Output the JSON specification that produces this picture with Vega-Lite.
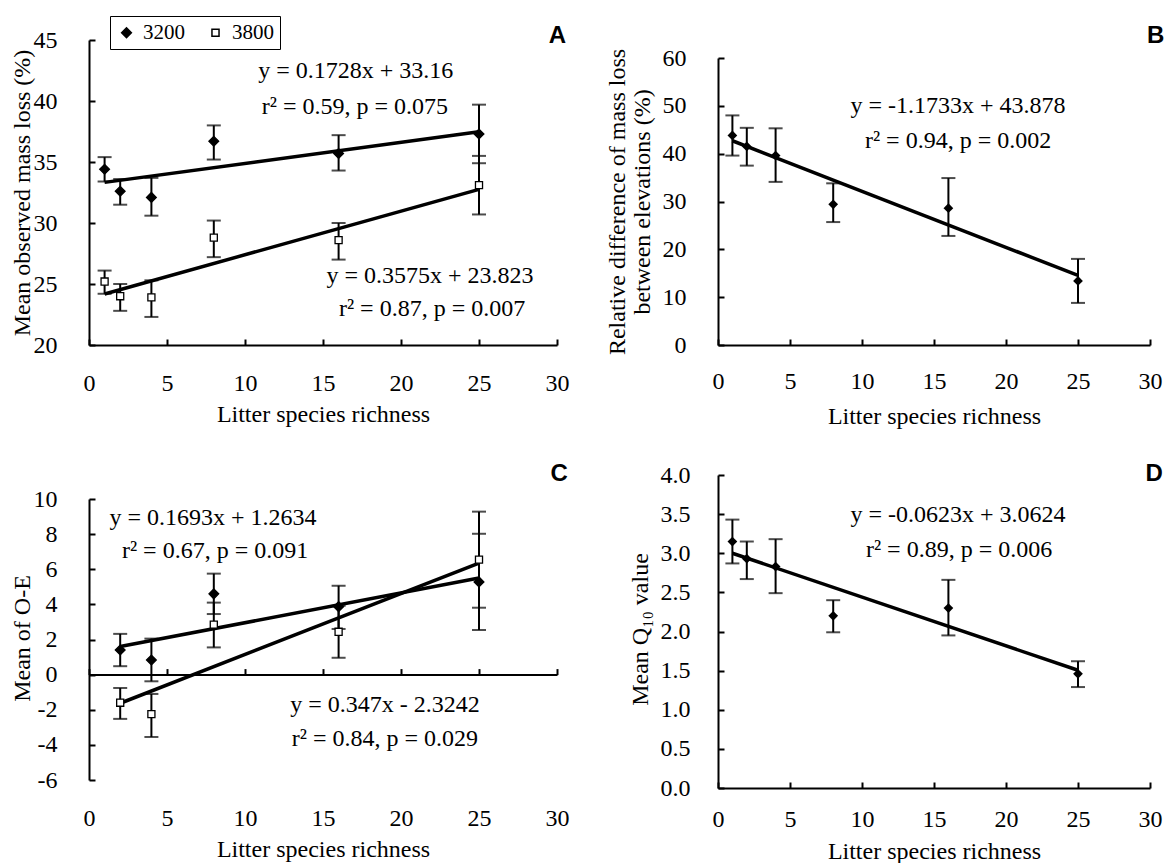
{
  "$schema": "https://vega.github.io/schema/vega-lite/v6.json",
  "background": "white",
  "padding": {"left": 10, "top": 15, "right": 0, "bottom": 2},
  "config": {
    "view": {"stroke": null},
    "font": "Liberation Serif",
    "style": {"guide-label": {"font": "Liberation Serif", "fill": "#000"}, "guide-title": {"font": "Liberation Serif", "fill": "#000"}},
    "axis": {"domainColor": "#000", "domainWidth": 2, "tickColor": "#000", "tickWidth": 2, "tickSize": -6,
      "labelFont": "Liberation Serif", "labelFontSize": 24, "labelColor": "#000", "labelFlush": false, "labelOverlap": false,
      "titleFont": "Liberation Serif", "titleFontSize": 24, "titleFontWeight": "normal", "titleColor": "#000", "grid": false},
    "legend": {"orient": "none", "direction": "horizontal", "title": null, "strokeColor": "#000", "fillColor": "#fff",
      "labelFont": "Liberation Serif", "labelFontSize": 22, "labelColor": "#000",
      "columnPadding": 20, "labelOffset": 6, "padding": 8}
  },
  "datasets": {
    "A_pts": [
      {"x": 1, "y": 34.4, "lo": 33.4, "hi": 35.4, "elev": "3200"},
      {"x": 2, "y": 32.6, "lo": 31.5, "hi": 33.6, "elev": "3200"},
      {"x": 4, "y": 32.1, "lo": 30.6, "hi": 33.7, "elev": "3200"},
      {"x": 8, "y": 36.7, "lo": 35.2, "hi": 38.0, "elev": "3200"},
      {"x": 16, "y": 35.7, "lo": 34.3, "hi": 37.2, "elev": "3200"},
      {"x": 25, "y": 37.3, "lo": 34.9, "hi": 39.7, "elev": "3200"},
      {"x": 1, "y": 25.2, "lo": 24.2, "hi": 26.1, "elev": "3800"},
      {"x": 2, "y": 24.0, "lo": 22.8, "hi": 25.0, "elev": "3800"},
      {"x": 4, "y": 23.9, "lo": 22.3, "hi": 25.3, "elev": "3800"},
      {"x": 8, "y": 28.8, "lo": 27.2, "hi": 30.2, "elev": "3800"},
      {"x": 16, "y": 28.6, "lo": 27.0, "hi": 30.0, "elev": "3800"},
      {"x": 25, "y": 33.1, "lo": 30.7, "hi": 35.5, "elev": "3800"}
    ],
    "A_line": [
      {"x": 1, "y": 33.33, "s": "3200"}, {"x": 25, "y": 37.48, "s": "3200"},
      {"x": 1, "y": 24.18, "s": "3800"}, {"x": 25, "y": 32.76, "s": "3800"}
    ],
    "A_txt": [
      {"x": 17.1, "y": 42.46, "t": "y = 0.1728x + 33.16"},
      {"x": 17.05, "y": 39.51, "t": "r² = 0.59, p = 0.075"},
      {"x": 21.86, "y": 25.66, "t": "y = 0.3575x + 23.823"},
      {"x": 21.99, "y": 22.95, "t": "r² = 0.87, p = 0.007"}
    ],
    "A_tag": [{"x": 30.58, "y": 44.75, "t": "A"}],
    "B_pts": [
      {"x": 1, "y": 43.8, "lo": 39.6, "hi": 48.0},
      {"x": 2, "y": 41.5, "lo": 37.5, "hi": 45.4},
      {"x": 4, "y": 39.6, "lo": 34.1, "hi": 45.3},
      {"x": 8, "y": 29.4, "lo": 25.7, "hi": 33.8},
      {"x": 16, "y": 28.6, "lo": 22.8, "hi": 34.9},
      {"x": 25, "y": 13.4, "lo": 8.8, "hi": 18.0}
    ],
    "B_line": [{"x": 1, "y": 42.70}, {"x": 25, "y": 14.55}],
    "B_txt": [
      {"x": 16.67, "y": 49.97, "t": "y = -1.1733x + 43.878"},
      {"x": 16.67, "y": 42.65, "t": "r² = 0.94, p = 0.002"}
    ],
    "B_tag": [{"x": 31.0, "y": 63.1, "t": "B"}],
    "C_pts": [
      {"x": 2, "y": 1.4, "lo": 0.48, "hi": 2.32, "elev": "3200"},
      {"x": 4, "y": 0.83, "lo": -0.38, "hi": 2.05, "elev": "3200"},
      {"x": 8, "y": 4.6, "lo": 3.45, "hi": 5.75, "elev": "3200"},
      {"x": 16, "y": 3.87, "lo": 2.6, "hi": 5.06, "elev": "3200"},
      {"x": 25, "y": 5.28, "lo": 2.54, "hi": 8.02, "elev": "3200"},
      {"x": 2, "y": -1.6, "lo": -2.52, "hi": -0.76, "elev": "3800"},
      {"x": 4, "y": -2.25, "lo": -3.55, "hi": -1.1, "elev": "3800"},
      {"x": 8, "y": 2.85, "lo": 1.55, "hi": 4.1, "elev": "3800"},
      {"x": 16, "y": 2.44, "lo": 0.96, "hi": 3.92, "elev": "3800"},
      {"x": 25, "y": 6.55, "lo": 3.81, "hi": 9.28, "elev": "3800"}
    ],
    "C_line": [
      {"x": 2, "y": 1.60, "s": "3200"}, {"x": 25, "y": 5.50, "s": "3200"},
      {"x": 2, "y": -1.63, "s": "3800"}, {"x": 25, "y": 6.35, "s": "3800"}
    ],
    "C_txt": [
      {"x": 7.95, "y": 8.94, "t": "y = 0.1693x + 1.2634"},
      {"x": 8.08, "y": 7.04, "t": "r² = 0.67, p = 0.091"},
      {"x": 18.97, "y": -1.73, "t": "y = 0.347x - 2.3242"},
      {"x": 18.97, "y": -3.67, "t": "r² = 0.84, p = 0.029"}
    ],
    "C_tag": [{"x": 30.7, "y": 11.03, "t": "C"}],
    "D_pts": [
      {"x": 1, "y": 3.15, "lo": 2.87, "hi": 3.43},
      {"x": 2, "y": 2.93, "lo": 2.67, "hi": 3.15},
      {"x": 4, "y": 2.83, "lo": 2.49, "hi": 3.18},
      {"x": 8, "y": 2.20, "lo": 1.99, "hi": 2.40},
      {"x": 16, "y": 2.30, "lo": 1.95, "hi": 2.66},
      {"x": 25, "y": 1.46, "lo": 1.29, "hi": 1.62}
    ],
    "D_line": [{"x": 1, "y": 3.00}, {"x": 25, "y": 1.505}],
    "D_txt": [
      {"x": 16.67, "y": 3.489, "t": "y = -0.0623x + 3.0624"},
      {"x": 16.74, "y": 3.04, "t": "r² = 0.89, p = 0.006"}
    ],
    "D_tag": [{"x": 30.9, "y": 3.92, "t": "D"}]
  },
  "columns": 2,
  "spacing": {"row": 130, "column": 161},
  "bounds": "flush",
  "align": "each",
  "concat": [
    {
      "width": 468, "height": 305,
      "encoding": {
        "x": {"field": "x", "type": "quantitative", "scale": {"domain": [0, 30], "nice": false},
          "axis": {"values": [0, 5, 10, 15, 20, 25, 30], "title": "Litter species richness", "labelFont": "Liberation Serif", "labelBaseline": "middle", "labelPadding": 44, "titleY": 69, "titleBaseline": "middle"}}
      },
      "layer": [
        {"data": {"name": "A_pts"}, "mark": {"type": "rule", "color": "#000", "strokeWidth": 2},
          "encoding": {
            "y": {"field": "lo", "type": "quantitative", "scale": {"domain": [20, 45], "nice": false},
              "axis": {"values": [20, 25, 30, 35, 40, 45], "title": "Mean observed mass loss (%)", "labelFont": "Liberation Serif", "labelPadding": 38, "titleX": -67, "titleY": 152.5, "titleBaseline": "middle", "titleAlign": "center", "titleAngle": 270}},
            "y2": {"field": "hi"}}},
        {"data": {"name": "A_pts"}, "mark": {"type": "tick", "orient": "horizontal", "color": "#000", "size": 14, "thickness": 2},
          "encoding": {
            "y": {"field": "lo", "type": "quantitative", "scale": {"domain": [20, 45], "nice": false},
              "axis": {"values": [20, 25, 30, 35, 40, 45], "title": "Mean observed mass loss (%)", "labelFont": "Liberation Serif", "labelPadding": 38, "titleX": -67, "titleY": 152.5, "titleBaseline": "middle", "titleAlign": "center", "titleAngle": 270}}}},
        {"data": {"name": "A_pts"}, "mark": {"type": "tick", "orient": "horizontal", "color": "#000", "size": 14, "thickness": 2},
          "encoding": {
            "y": {"field": "hi", "type": "quantitative", "scale": {"domain": [20, 45], "nice": false},
              "axis": {"values": [20, 25, 30, 35, 40, 45], "title": "Mean observed mass loss (%)", "labelFont": "Liberation Serif", "labelPadding": 38, "titleX": -67, "titleY": 152.5, "titleBaseline": "middle", "titleAlign": "center", "titleAngle": 270}}}},
        {"data": {"name": "A_line"}, "mark": {"type": "line", "color": "#000", "strokeWidth": 3.5},
          "encoding": {
            "y": {"field": "y", "type": "quantitative", "scale": {"domain": [20, 45], "nice": false},
              "axis": {"values": [20, 25, 30, 35, 40, 45], "title": "Mean observed mass loss (%)", "labelFont": "Liberation Serif", "labelPadding": 38, "titleX": -67, "titleY": 152.5, "titleBaseline": "middle", "titleAlign": "center", "titleAngle": 270}},
            "detail": {"field": "s", "type": "nominal"}}},
        {"data": {"name": "A_pts"}, "mark": {"type": "point", "filled": true, "strokeWidth": 1.3, "opacity": 1},
          "encoding": {
            "y": {"field": "y", "type": "quantitative", "scale": {"domain": [20, 45], "nice": false},
              "axis": {"values": [20, 25, 30, 35, 40, 45], "title": "Mean observed mass loss (%)", "labelFont": "Liberation Serif", "labelPadding": 38, "titleX": -67, "titleY": 152.5, "titleBaseline": "middle", "titleAlign": "center", "titleAngle": 270}},
            "shape": {"field": "elev", "type": "nominal", "scale": {"domain": ["3200", "3800"], "range": ["diamond", "square"]}, "legend": {"legendX": 21, "legendY": -24, "labelFont": "Liberation Serif"}},
            "fill": {"field": "elev", "type": "nominal", "scale": {"domain": ["3200", "3800"], "range": ["#000", "#fff"]}, "legend": {"legendX": 21, "legendY": -24, "labelFont": "Liberation Serif"}},
            "stroke": {"field": "elev", "type": "nominal", "scale": {"domain": ["3200", "3800"], "range": ["#000", "#000"]}, "legend": {"legendX": 21, "legendY": -24, "labelFont": "Liberation Serif"}},
            "size": {"field": "elev", "type": "nominal", "scale": {"domain": ["3200", "3800"], "range": [95, 50]}, "legend": {"legendX": 21, "legendY": -24, "labelFont": "Liberation Serif"}}}},
        {"data": {"name": "A_txt"}, "mark": {"type": "text", "fontSize": 24, "font": "Liberation Serif", "color": "#000"},
          "encoding": {
            "y": {"field": "y", "type": "quantitative", "scale": {"domain": [20, 45], "nice": false},
              "axis": {"values": [20, 25, 30, 35, 40, 45], "title": "Mean observed mass loss (%)", "labelFont": "Liberation Serif", "labelPadding": 38, "titleX": -67, "titleY": 152.5, "titleBaseline": "middle", "titleAlign": "center", "titleAngle": 270}},
            "text": {"field": "t", "type": "nominal"}}},
        {"data": {"name": "A_tag"}, "mark": {"type": "text", "fontSize": 24, "font": "Liberation Sans", "fontWeight": "bold", "color": "#000", "align": "right", "baseline": "alphabetic"},
          "encoding": {
            "y": {"field": "y", "type": "quantitative", "scale": {"domain": [20, 45], "nice": false},
              "axis": {"values": [20, 25, 30, 35, 40, 45], "title": "Mean observed mass loss (%)", "labelFont": "Liberation Serif", "labelPadding": 38, "titleX": -67, "titleY": 152.5, "titleBaseline": "middle", "titleAlign": "center", "titleAngle": 270}},
            "text": {"field": "t", "type": "nominal"}}}
      ]
    },
    {
      "width": 432, "height": 305,
      "encoding": {
        "x": {"field": "x", "type": "quantitative", "scale": {"domain": [0, 30], "nice": false},
          "axis": {"values": [0, 5, 10, 15, 20, 25, 30], "title": "Litter species richness", "labelFont": "Liberation Serif", "labelBaseline": "middle", "labelPadding": 42, "titleY": 71, "titleBaseline": "middle"}}
      },
      "layer": [
        {"data": {"name": "B_pts"}, "mark": {"type": "rule", "color": "#000", "strokeWidth": 2},
          "encoding": {
            "y": {"field": "lo", "type": "quantitative", "scale": {"domain": [0, 60], "nice": false, "range": [305, 18]},
              "axis": {"values": [0, 10, 20, 30, 40, 50, 60], "title": ["Relative difference of mass loss", "between elevations (%)"], "labelFont": "Liberation Serif", "labelPadding": 38, "titleX": -100.5, "titleY": 161.5, "titleBaseline": "middle", "titleAlign": "center", "titleAngle": 270, "titleLineHeight": 24.5}},
            "y2": {"field": "hi"}}},
        {"data": {"name": "B_pts"}, "mark": {"type": "tick", "orient": "horizontal", "color": "#000", "size": 14, "thickness": 2},
          "encoding": {
            "y": {"field": "lo", "type": "quantitative", "scale": {"domain": [0, 60], "nice": false, "range": [305, 18]},
              "axis": {"values": [0, 10, 20, 30, 40, 50, 60], "title": ["Relative difference of mass loss", "between elevations (%)"], "labelFont": "Liberation Serif", "labelPadding": 38, "titleX": -100.5, "titleY": 161.5, "titleBaseline": "middle", "titleAlign": "center", "titleAngle": 270, "titleLineHeight": 24.5}}}},
        {"data": {"name": "B_pts"}, "mark": {"type": "tick", "orient": "horizontal", "color": "#000", "size": 14, "thickness": 2},
          "encoding": {
            "y": {"field": "hi", "type": "quantitative", "scale": {"domain": [0, 60], "nice": false, "range": [305, 18]},
              "axis": {"values": [0, 10, 20, 30, 40, 50, 60], "title": ["Relative difference of mass loss", "between elevations (%)"], "labelFont": "Liberation Serif", "labelPadding": 38, "titleX": -100.5, "titleY": 161.5, "titleBaseline": "middle", "titleAlign": "center", "titleAngle": 270, "titleLineHeight": 24.5}}}},
        {"data": {"name": "B_line"}, "mark": {"type": "line", "color": "#000", "strokeWidth": 3.5},
          "encoding": {
            "y": {"field": "y", "type": "quantitative", "scale": {"domain": [0, 60], "nice": false, "range": [305, 18]},
              "axis": {"values": [0, 10, 20, 30, 40, 50, 60], "title": ["Relative difference of mass loss", "between elevations (%)"], "labelFont": "Liberation Serif", "labelPadding": 38, "titleX": -100.5, "titleY": 161.5, "titleBaseline": "middle", "titleAlign": "center", "titleAngle": 270, "titleLineHeight": 24.5}}}},
        {"data": {"name": "B_pts"}, "mark": {"type": "point", "filled": true, "shape": "diamond", "size": 95, "color": "#000", "opacity": 1},
          "encoding": {
            "y": {"field": "y", "type": "quantitative", "scale": {"domain": [0, 60], "nice": false, "range": [305, 18]},
              "axis": {"values": [0, 10, 20, 30, 40, 50, 60], "title": ["Relative difference of mass loss", "between elevations (%)"], "labelFont": "Liberation Serif", "labelPadding": 38, "titleX": -100.5, "titleY": 161.5, "titleBaseline": "middle", "titleAlign": "center", "titleAngle": 270, "titleLineHeight": 24.5}}}},
        {"data": {"name": "B_txt"}, "mark": {"type": "text", "fontSize": 24, "font": "Liberation Serif", "color": "#000"},
          "encoding": {
            "y": {"field": "y", "type": "quantitative", "scale": {"domain": [0, 60], "nice": false, "range": [305, 18]},
              "axis": {"values": [0, 10, 20, 30, 40, 50, 60], "title": ["Relative difference of mass loss", "between elevations (%)"], "labelFont": "Liberation Serif", "labelPadding": 38, "titleX": -100.5, "titleY": 161.5, "titleBaseline": "middle", "titleAlign": "center", "titleAngle": 270, "titleLineHeight": 24.5}},
            "text": {"field": "t", "type": "nominal"}}},
        {"data": {"name": "B_tag"}, "mark": {"type": "text", "fontSize": 24, "font": "Liberation Sans", "fontWeight": "bold", "color": "#000", "align": "right", "baseline": "alphabetic"},
          "encoding": {
            "y": {"field": "y", "type": "quantitative", "scale": {"domain": [0, 60], "nice": false, "range": [305, 18]},
              "axis": {"values": [0, 10, 20, 30, 40, 50, 60], "title": ["Relative difference of mass loss", "between elevations (%)"], "labelFont": "Liberation Serif", "labelPadding": 38, "titleX": -100.5, "titleY": 161.5, "titleBaseline": "middle", "titleAlign": "center", "titleAngle": 270, "titleLineHeight": 24.5}},
            "text": {"field": "t", "type": "nominal"}}}
      ]
    },
    {
      "width": 468, "height": 313,
      "encoding": {
        "x": {"field": "x", "type": "quantitative", "scale": {"domain": [0, 30], "nice": false},
          "axis": {"values": [0, 5, 10, 15, 20, 25, 30], "title": "Litter species richness", "labelFont": "Liberation Serif", "offset": -113.4, "labelBaseline": "middle", "labelPadding": 149.4, "titleY": 175, "titleBaseline": "middle"}}
      },
      "layer": [
        {"data": {"name": "C_pts"}, "mark": {"type": "rule", "color": "#000", "strokeWidth": 2},
          "encoding": {
            "y": {"field": "lo", "type": "quantitative", "scale": {"domain": [-6, 10], "nice": false, "range": [305, 24]},
              "axis": {"values": [-6, -4, -2, 0, 2, 4, 6, 8, 10], "labelExpr": "replace(datum.label, '−', '-')", "title": "Mean of O-E", "labelFont": "Liberation Serif", "labelPadding": 38, "titleX": -67, "titleY": 163, "titleBaseline": "middle", "titleAlign": "center", "titleAngle": 270}},
            "y2": {"field": "hi"}}},
        {"data": {"name": "C_pts"}, "mark": {"type": "tick", "orient": "horizontal", "color": "#000", "size": 14, "thickness": 2},
          "encoding": {
            "y": {"field": "lo", "type": "quantitative", "scale": {"domain": [-6, 10], "nice": false, "range": [305, 24]},
              "axis": {"values": [-6, -4, -2, 0, 2, 4, 6, 8, 10], "labelExpr": "replace(datum.label, '−', '-')", "title": "Mean of O-E", "labelFont": "Liberation Serif", "labelPadding": 38, "titleX": -67, "titleY": 163, "titleBaseline": "middle", "titleAlign": "center", "titleAngle": 270}}}},
        {"data": {"name": "C_pts"}, "mark": {"type": "tick", "orient": "horizontal", "color": "#000", "size": 14, "thickness": 2},
          "encoding": {
            "y": {"field": "hi", "type": "quantitative", "scale": {"domain": [-6, 10], "nice": false, "range": [305, 24]},
              "axis": {"values": [-6, -4, -2, 0, 2, 4, 6, 8, 10], "labelExpr": "replace(datum.label, '−', '-')", "title": "Mean of O-E", "labelFont": "Liberation Serif", "labelPadding": 38, "titleX": -67, "titleY": 163, "titleBaseline": "middle", "titleAlign": "center", "titleAngle": 270}}}},
        {"data": {"name": "C_line"}, "mark": {"type": "line", "color": "#000", "strokeWidth": 3.5},
          "encoding": {
            "y": {"field": "y", "type": "quantitative", "scale": {"domain": [-6, 10], "nice": false, "range": [305, 24]},
              "axis": {"values": [-6, -4, -2, 0, 2, 4, 6, 8, 10], "labelExpr": "replace(datum.label, '−', '-')", "title": "Mean of O-E", "labelFont": "Liberation Serif", "labelPadding": 38, "titleX": -67, "titleY": 163, "titleBaseline": "middle", "titleAlign": "center", "titleAngle": 270}},
            "detail": {"field": "s", "type": "nominal"}}},
        {"data": {"name": "C_pts"}, "mark": {"type": "point", "filled": true, "strokeWidth": 1.3, "opacity": 1},
          "encoding": {
            "y": {"field": "y", "type": "quantitative", "scale": {"domain": [-6, 10], "nice": false, "range": [305, 24]},
              "axis": {"values": [-6, -4, -2, 0, 2, 4, 6, 8, 10], "labelExpr": "replace(datum.label, '−', '-')", "title": "Mean of O-E", "labelFont": "Liberation Serif", "labelPadding": 38, "titleX": -67, "titleY": 163, "titleBaseline": "middle", "titleAlign": "center", "titleAngle": 270}},
            "shape": {"field": "elev", "type": "nominal", "scale": {"domain": ["3200", "3800"], "range": ["diamond", "square"]}, "legend": {"legendX": 26, "legendY": -21, "padding": 6, "labelFontSize": 21, "labelFont": "Liberation Serif"}},
            "fill": {"field": "elev", "type": "nominal", "scale": {"domain": ["3200", "3800"], "range": ["#000", "#fff"]}, "legend": {"legendX": 26, "legendY": -21, "padding": 6, "labelFontSize": 21, "labelFont": "Liberation Serif"}},
            "stroke": {"field": "elev", "type": "nominal", "scale": {"domain": ["3200", "3800"], "range": ["#000", "#000"]}, "legend": {"legendX": 26, "legendY": -21, "padding": 6, "labelFontSize": 21, "labelFont": "Liberation Serif"}},
            "size": {"field": "elev", "type": "nominal", "scale": {"domain": ["3200", "3800"], "range": [95, 50]}, "legend": {"legendX": 26, "legendY": -21, "padding": 6, "labelFontSize": 21, "labelFont": "Liberation Serif"}}}},
        {"data": {"name": "C_txt"}, "mark": {"type": "text", "fontSize": 24, "font": "Liberation Serif", "color": "#000"},
          "encoding": {
            "y": {"field": "y", "type": "quantitative", "scale": {"domain": [-6, 10], "nice": false, "range": [305, 24]},
              "axis": {"values": [-6, -4, -2, 0, 2, 4, 6, 8, 10], "labelExpr": "replace(datum.label, '−', '-')", "title": "Mean of O-E", "labelFont": "Liberation Serif", "labelPadding": 38, "titleX": -67, "titleY": 163, "titleBaseline": "middle", "titleAlign": "center", "titleAngle": 270}},
            "text": {"field": "t", "type": "nominal"}}},
        {"data": {"name": "C_tag"}, "mark": {"type": "text", "fontSize": 24, "font": "Liberation Sans", "fontWeight": "bold", "color": "#000", "align": "right", "baseline": "alphabetic"},
          "encoding": {
            "y": {"field": "y", "type": "quantitative", "scale": {"domain": [-6, 10], "nice": false, "range": [305, 24]},
              "axis": {"values": [-6, -4, -2, 0, 2, 4, 6, 8, 10], "labelExpr": "replace(datum.label, '−', '-')", "title": "Mean of O-E", "labelFont": "Liberation Serif", "labelPadding": 38, "titleX": -67, "titleY": 163, "titleBaseline": "middle", "titleAlign": "center", "titleAngle": 270}},
            "text": {"field": "t", "type": "nominal"}}}
      ]
    },
    {
      "width": 432, "height": 313,
      "encoding": {
        "x": {"field": "x", "type": "quantitative", "scale": {"domain": [0, 30], "nice": false},
          "axis": {"values": [0, 5, 10, 15, 20, 25, 30], "title": "Litter species richness", "labelFont": "Liberation Serif", "labelBaseline": "middle", "labelPadding": 37, "titleY": 63, "titleBaseline": "middle"}}
      },
      "layer": [
        {"data": {"name": "D_pts"}, "mark": {"type": "rule", "color": "#000", "strokeWidth": 2},
          "encoding": {
            "y": {"field": "lo", "type": "quantitative", "scale": {"domain": [0, 4], "nice": false},
              "axis": {"values": [0, 0.5, 1, 1.5, 2, 2.5, 3, 3.5, 4], "format": ".1f", "title": "Mean Q₁₀ value", "labelFont": "Liberation Serif", "labelPadding": 34, "titleX": -78, "titleY": 154, "titleBaseline": "middle", "titleAlign": "center", "titleAngle": 270}},
            "y2": {"field": "hi"}}},
        {"data": {"name": "D_pts"}, "mark": {"type": "tick", "orient": "horizontal", "color": "#000", "size": 14, "thickness": 2},
          "encoding": {
            "y": {"field": "lo", "type": "quantitative", "scale": {"domain": [0, 4], "nice": false},
              "axis": {"values": [0, 0.5, 1, 1.5, 2, 2.5, 3, 3.5, 4], "format": ".1f", "title": "Mean Q₁₀ value", "labelFont": "Liberation Serif", "labelPadding": 34, "titleX": -78, "titleY": 154, "titleBaseline": "middle", "titleAlign": "center", "titleAngle": 270}}}},
        {"data": {"name": "D_pts"}, "mark": {"type": "tick", "orient": "horizontal", "color": "#000", "size": 14, "thickness": 2},
          "encoding": {
            "y": {"field": "hi", "type": "quantitative", "scale": {"domain": [0, 4], "nice": false},
              "axis": {"values": [0, 0.5, 1, 1.5, 2, 2.5, 3, 3.5, 4], "format": ".1f", "title": "Mean Q₁₀ value", "labelFont": "Liberation Serif", "labelPadding": 34, "titleX": -78, "titleY": 154, "titleBaseline": "middle", "titleAlign": "center", "titleAngle": 270}}}},
        {"data": {"name": "D_line"}, "mark": {"type": "line", "color": "#000", "strokeWidth": 3.5},
          "encoding": {
            "y": {"field": "y", "type": "quantitative", "scale": {"domain": [0, 4], "nice": false},
              "axis": {"values": [0, 0.5, 1, 1.5, 2, 2.5, 3, 3.5, 4], "format": ".1f", "title": "Mean Q₁₀ value", "labelFont": "Liberation Serif", "labelPadding": 34, "titleX": -78, "titleY": 154, "titleBaseline": "middle", "titleAlign": "center", "titleAngle": 270}}}},
        {"data": {"name": "D_pts"}, "mark": {"type": "point", "filled": true, "shape": "diamond", "size": 95, "color": "#000", "opacity": 1},
          "encoding": {
            "y": {"field": "y", "type": "quantitative", "scale": {"domain": [0, 4], "nice": false},
              "axis": {"values": [0, 0.5, 1, 1.5, 2, 2.5, 3, 3.5, 4], "format": ".1f", "title": "Mean Q₁₀ value", "labelFont": "Liberation Serif", "labelPadding": 34, "titleX": -78, "titleY": 154, "titleBaseline": "middle", "titleAlign": "center", "titleAngle": 270}}}},
        {"data": {"name": "D_txt"}, "mark": {"type": "text", "fontSize": 24, "font": "Liberation Serif", "color": "#000"},
          "encoding": {
            "y": {"field": "y", "type": "quantitative", "scale": {"domain": [0, 4], "nice": false},
              "axis": {"values": [0, 0.5, 1, 1.5, 2, 2.5, 3, 3.5, 4], "format": ".1f", "title": "Mean Q₁₀ value", "labelFont": "Liberation Serif", "labelPadding": 34, "titleX": -78, "titleY": 154, "titleBaseline": "middle", "titleAlign": "center", "titleAngle": 270}},
            "text": {"field": "t", "type": "nominal"}}},
        {"data": {"name": "D_tag"}, "mark": {"type": "text", "fontSize": 24, "font": "Liberation Sans", "fontWeight": "bold", "color": "#000", "align": "right", "baseline": "alphabetic"},
          "encoding": {
            "y": {"field": "y", "type": "quantitative", "scale": {"domain": [0, 4], "nice": false},
              "axis": {"values": [0, 0.5, 1, 1.5, 2, 2.5, 3, 3.5, 4], "format": ".1f", "title": "Mean Q₁₀ value", "labelFont": "Liberation Serif", "labelPadding": 34, "titleX": -78, "titleY": 154, "titleBaseline": "middle", "titleAlign": "center", "titleAngle": 270}},
            "text": {"field": "t", "type": "nominal"}}}
      ]
    }
  ]
}
